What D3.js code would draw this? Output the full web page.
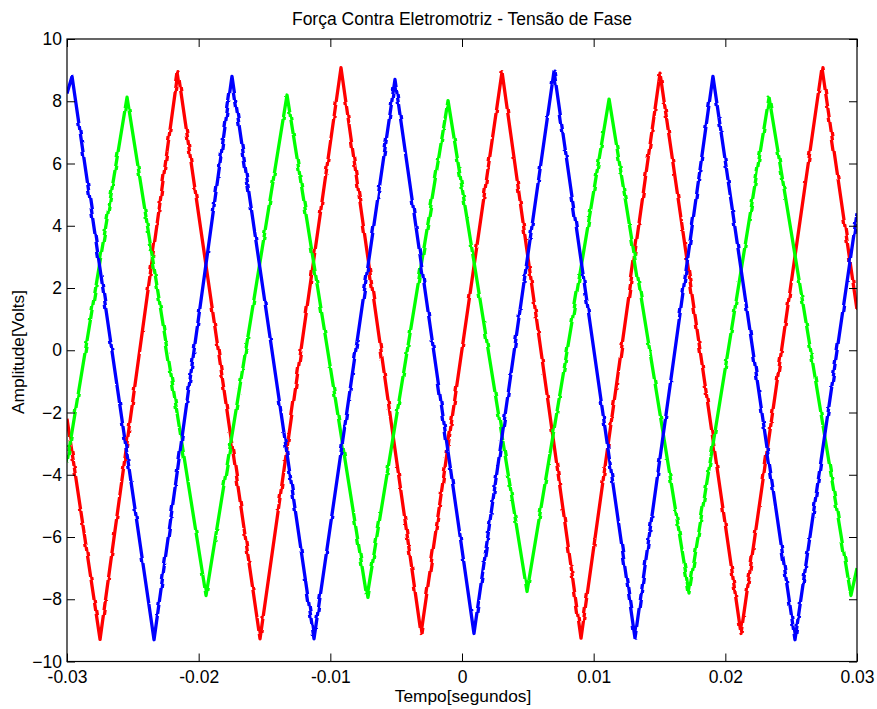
<html>
  <head>
    <script src="https://d3js.org/d3.v7.min.js"></script>
    <style>
      body { margin: 0; background: #fff; }
      text { font-family: "Liberation Sans", Arial, Helvetica, sans-serif; fill: #000; }
    </style>
  </head>

  <body>
    <script>
      var width = 877;
      var height = 709;
      var plotLeft = 67, plotRight = 857, plotTop = 39, plotBottom = 661.5;

      // phase voltages: peaks and valleys of each phase, time in seconds
      var redTime  = [-0.03, -0.02749, -0.02157, -0.01534, -0.00919, -0.00311, 0.00304, 0.00904, 0.01504, 0.02119, 0.02734, 0.03];
      var redVolts = [-2.2, -9.29, 8.95, -9.27, 9.08, -9.1, 8.95, -9.25, 8.9, -9.1, 9.08, 1.3];

      var blueTime  = [-0.03, -0.02962, -0.02339, -0.01747, -0.01124, -0.00509, 0.00091, 0.00699, 0.01314, 0.01906, 0.02529, 0.03];
      var blueVolts = [8.25, 8.8, -9.3, 8.8, -9.27, 8.7, -9.1, 8.97, -9.25, 8.8, -9.3, 4.4];

      var greenTime  = [-0.03, -0.02544, -0.01944, -0.01329, -0.00722, -0.00106, 0.00494, 0.01117, 0.01724, 0.02332, 0.02954, 0.03];
      var greenVolts = [-3.6, 8.13, -7.88, 8.2, -7.94, 8.02, -7.75, 8.07, -7.8, 8.13, -7.88, -7.0];

      var xTicks = [-0.03, -0.02, -0.01, 0, 0.01, 0.02, 0.03];
      var xTickLabels = ["-0.03", "-0.02", "-0.01", "0", "0.01", "0.02", "0.03"];
      var yTicks = [-10, -8, -6, -4, -2, 0, 2, 4, 6, 8, 10];

      var phases = [
        {color: "#ff0000", time: redTime, volts: redVolts},
        {color: "#00ff00", time: greenTime, volts: greenVolts},
        {color: "#0000ff", time: blueTime, volts: blueVolts}
      ];

      var x = d3.scaleLinear().domain([-0.03, 0.03]).range([plotLeft, plotRight]);
      var y = d3.scaleLinear().domain([-10, 10]).range([plotBottom, plotTop]);

      var svg = d3.select("body").append("svg")
                  .attr("width", width).attr("height", height);

      svg.append("rect").attr("width", width).attr("height", height).attr("fill", "#fff");

      var defs = svg.append("defs");
      defs.append("clipPath").attr("id", "plot")
          .append("rect")
          .attr("x", plotLeft).attr("y", plotTop)
          .attr("width", plotRight - plotLeft).attr("height", plotBottom - plotTop);

      // small sideways jitter so the traces get the stepped edge of the measured signal
      var rough = defs.append("filter").attr("id", "rough")
                      .attr("filterUnits", "userSpaceOnUse")
                      .attr("x", 0).attr("y", 0).attr("width", width).attr("height", height);
      rough.append("feTurbulence")
           .attr("type", "fractalNoise").attr("baseFrequency", "0.015 0.14")
           .attr("numOctaves", 1).attr("seed", 7).attr("result", "noise");
      rough.append("feColorMatrix")
           .attr("in", "noise").attr("type", "matrix")
           .attr("values", "1 0 0 0 0  0 0 0 0 0.5  0 0 0 0 0  0 0 0 0 1")
           .attr("result", "shift");
      rough.append("feDisplacementMap")
           .attr("in", "SourceGraphic").attr("in2", "shift")
           .attr("scale", 3.5).attr("xChannelSelector", "R").attr("yChannelSelector", "G");

      // the three phase curves
      var line = d3.line()
                   .x(function(d) { return x(d[0]); })
                   .y(function(d) { return y(d[1]); });

      svg.append("g").attr("clip-path", "url(#plot)")
         .append("g").attr("filter", "url(#rough)")
         .selectAll("path")
         .data(phases)
         .enter()
         .append("path")
         .attr("d", function(p) { return line(d3.zip(p.time, p.volts)); })
         .attr("fill", "none")
         .attr("stroke", function(p) { return p.color; })
         .attr("stroke-width", 3.3)
         .attr("stroke-linejoin", "round");

      // axes, ticks pointing inwards on all four sides
      var tickLen = 8;
      var xFmt = function(d, i) { return xTickLabels[i]; };

      var gx = svg.append("g").attr("transform", "translate(0," + plotBottom + ")")
                  .call(d3.axisBottom(x).tickValues(xTicks).tickFormat(xFmt)
                          .tickSize(-tickLen).tickSizeOuter(0).tickPadding(9));
      svg.append("g").attr("transform", "translate(0," + plotTop + ")")
         .call(d3.axisTop(x).tickValues(xTicks).tickFormat("")
                 .tickSize(-tickLen).tickSizeOuter(0));
      var gy = svg.append("g").attr("transform", "translate(" + plotLeft + ",0)")
                  .call(d3.axisLeft(y).tickValues(yTicks).tickFormat(d3.format("d"))
                          .tickSize(-tickLen).tickSizeOuter(0).tickPadding(5));
      svg.append("g").attr("transform", "translate(" + plotRight + ",0)")
         .call(d3.axisRight(y).tickValues(yTicks).tickFormat("")
                 .tickSize(-tickLen).tickSizeOuter(0));

      svg.selectAll(".domain").remove();
      svg.selectAll(".tick line").attr("stroke", "#000");
      svg.selectAll(".tick text")
         .attr("font-family", "'Liberation Sans', Arial, sans-serif")
         .attr("font-size", 17.5)
         .attr("fill", "#000");
      gy.selectAll(".tick text").attr("dy", "0.32em");

      svg.append("rect")
         .attr("x", plotLeft).attr("y", plotTop)
         .attr("width", plotRight - plotLeft).attr("height", plotBottom - plotTop)
         .attr("fill", "none").attr("stroke", "#000").attr("stroke-width", 1.2);

      // title and axis labels
      svg.append("text")
         .attr("x", 462).attr("y", 25)
         .attr("text-anchor", "middle")
         .attr("font-size", 17.5)
         .text("Força Contra Eletromotriz - Tensão de Fase");

      svg.append("text")
         .attr("x", 463).attr("y", 702)
         .attr("text-anchor", "middle")
         .attr("font-size", 17.3)
         .text("Tempo[segundos]");

      svg.append("text")
         .attr("transform", "translate(23.5,352) rotate(-90)")
         .attr("text-anchor", "middle")
         .attr("font-size", 17.3)
         .text("Amplitude[Volts]");
    </script>
  </body>
</html>
